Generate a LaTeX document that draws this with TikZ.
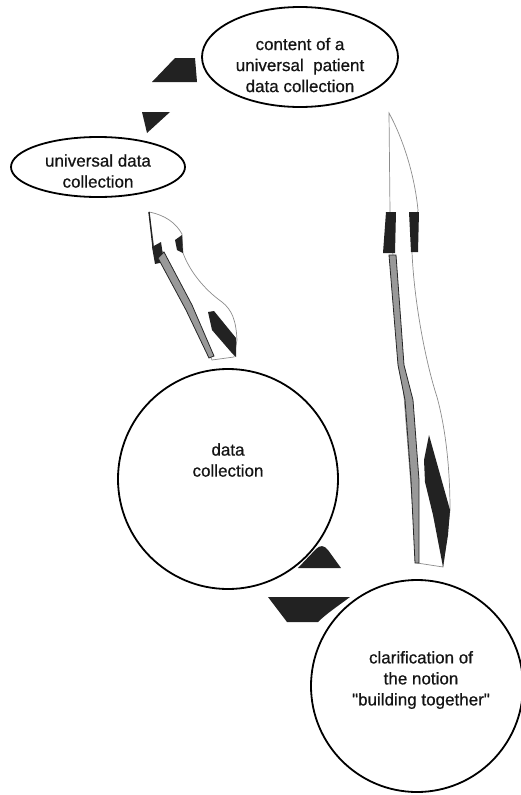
\documentclass[tikz,border=0pt]{standalone}
\usepackage{fontspec}
\setmainfont{Liberation Sans}
\newfontfamily\capfont{Liberation Sans}[FakeBold=0.7]
\usetikzlibrary{shapes.geometric}
\definecolor{ink}{HTML}{222222}
\begin{document}
\begin{tikzpicture}[x=1pt,y=-1pt,
  outline/.style={draw=black, line width=1.8pt},
  bubble/.style={outline, ellipse, inner sep=0pt},
  ring/.style={outline, circle, inner sep=0pt},
  caption/.style={font=\capfont\fontsize{17}{21}\selectfont, align=center, inner sep=0pt, text=black!92},
  blackblock/.style={fill=ink, draw=none},
  arrowbody/.style={fill=white, draw=black!45, line width=0.7pt},
  shaft/.style={fill=black!40, draw=black!85, line width=0.8pt},
]
\useasboundingbox (0,0) rectangle (521,795);

% ---- wavy arrow towards "universal data collection"
\path[arrowbody] (149,212) .. controls (165,215) and (176,223) .. (182,234)
  -- (183,253)
  .. controls (190,272) and (205,290) .. (222,302)
  .. controls (232,310) and (236,320) .. (237,340)
  -- (234,357) -- (212,360) -- (163,252) -- (154,248) -- cycle;
\draw[ink, line width=1.4pt] (149,212) -- (153,247);
\path[blackblock] (152,247) -- (161,242) -- (164,262) -- (155,264) -- cycle;
\path[blackblock] (175,240) -- (182,235) -- (183,253) -- (177,250) -- cycle;
\path[shaft] (158,258) -- (164,252) -- (192,305) -- (214,356) -- (209,358) -- (186,310) -- cycle;
\path[blackblock] (208,312) -- (214,311) -- (236,338) -- (236,357) -- (231,352) -- (212,330) -- cycle;

% ---- long wavy arrow towards the patient data collection
\path[arrowbody] (389,113) .. controls (401,135) and (414,170) .. (418,210)
  -- (412,252)
  .. controls (414,300) and (425,360) .. (437,397)
  .. controls (446,430) and (450,470) .. (450,510)
  -- (443,567) -- (417,563) -- (393,256) -- (390,212) -- cycle;
\path[blackblock] (386,212) -- (396,212) -- (395,253) -- (383,253) -- cycle;
\path[blackblock] (409,212) -- (419,212) -- (418,252) -- (411,252) -- cycle;
\path[shaft] (389,255) -- (396,255) -- (404,365) -- (413,400) -- (419,480) -- (419,563)
  -- (415,563) -- (411,480) -- (405,400) -- (398,365) -- cycle;
\path[blackblock] (429,435) -- (450,510) -- (448,535) -- (443,567) -- (433,515)
  -- (425,482) -- (424,460) -- cycle;

% ---- small dark markers
\path[blackblock] (152,82) -- (175,58) -- (195,58) -- (197,82) -- cycle;
\path[blackblock] (142,112) -- (170,112) -- (147,133) -- cycle;

% ---- bubbles
\node[bubble, minimum width=196pt, minimum height=100pt] (upc) at (300,57) {};
\node[caption] (upctext) at (300,65) {content of a\\universal\ \ patient\\data collection};

\node[bubble, minimum width=174pt, minimum height=60pt] (udc) at (98,167) {};
\node[caption] (udctext) at (98,171) {universal data\\collection};

\node[ring, minimum size=220pt] (dc) at (228,479) {};
\node[caption] (dctext) at (228,460) {data\\collection};

\node[ring, minimum size=212pt] (cl) at (417,686) {};
\node[caption] (cltext) at (421,680) {clarification of\\the notion\\"building together"};

% ---- dark markers between the two circles
\path[blackblock] (298,568) -- (316,549) .. controls (320,545) and (324,545) .. (328,550)
  -- (341,568) -- cycle;
\begin{scope}
  \clip (298,568) -- (316,549) -- (328,550) -- (341,568) -- cycle;
  \draw[white, line width=0.8pt] (dc.center) circle (111pt);
\end{scope}
\path[blackblock] (268,597) -- (350,597) .. controls (338,606) and (326,614) .. (318,622)
  -- (287,622) -- cycle;
\end{tikzpicture}
\end{document}
